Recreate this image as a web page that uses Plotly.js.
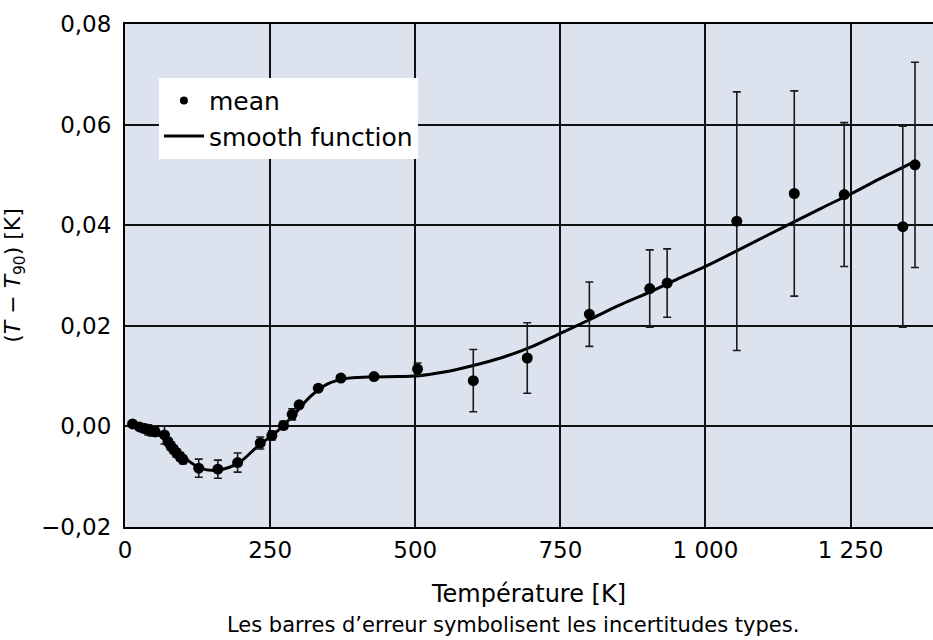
<!DOCTYPE html>
<html>
<head>
<meta charset="utf-8">
<script src="https://cdn.plot.ly/plotly-3.0.1.min.js"></script>
<style>html,body{margin:0;padding:0;background:#fff;}#chart{width:933px;height:640px;}</style>
</head>
<body>
<div id="chart"></div>
<script>
// Measured means (temperature in K, T - T90 in K, standard uncertainty in K)
const meanT = [13, 25, 33, 40, 46, 52, 68, 74, 79, 84, 89, 95, 100, 127, 160, 194, 233, 253, 273, 288, 300, 333, 372, 429, 504, 600, 693, 800, 904, 934, 1054, 1153, 1239, 1340, 1361];
const meanDiff = [0.0005, -0.0001, -0.0004, -0.0007, -0.0009, -0.0011, -0.0017, -0.0030, -0.0039, -0.0046, -0.0053, -0.0060, -0.0066, -0.0083, -0.0085, -0.0072, -0.0033, -0.0018, 0.0002, 0.0024, 0.0043, 0.0076, 0.0096, 0.0099, 0.0114, 0.0091, 0.0136, 0.0223, 0.0274, 0.0285, 0.0408, 0.0463, 0.0461, 0.0397, 0.0520];
const meanUnc = [0.0003, 0.0005, 0.0008, 0.0010, 0.0010, 0.0008, 0.0018, 0.0006, 0.0008, 0.0008, 0.0008, 0.0008, 0.0008, 0.0018, 0.0018, 0.0019, 0.0012, 0.0009, 0.0008, 0.0011, 0.0006, 0.0005, 0.0004, 0.0004, 0.0012, 0.0062, 0.0070, 0.0064, 0.0077, 0.0068, 0.0257, 0.0204, 0.0143, 0.0200, 0.0204];

// Smooth function
const smoothT = [13, 40, 70, 100, 130, 160, 195, 230, 260, 290, 320, 350, 380, 420, 470, 500, 550, 600, 650, 700, 750, 800, 850, 900, 950, 1000, 1100, 1200, 1250, 1300, 1361];
const smoothDiff = [0.0004, -0.0008, -0.0025, -0.0060, -0.0083, -0.0087, -0.0073, -0.0038, -0.0012, 0.0022, 0.0060, 0.0085, 0.0095, 0.0098, 0.0099, 0.0100, 0.0108, 0.0121, 0.0137, 0.0158, 0.0185, 0.0212, 0.0240, 0.0265, 0.0292, 0.0318, 0.0376, 0.0434, 0.0462, 0.0492, 0.0527];

const xTicks = [0, 250, 500, 750, 1000, 1250];
const yTicks = [-0.02, 0, 0.02, 0.04, 0.06, 0.08];

const FONT = 'DejaVu Sans, Liberation Sans, Arial, sans-serif';

const traces = [
  {
    x: smoothT, y: smoothDiff, type: 'scatter', mode: 'lines',
    name: 'smooth function', legendrank: 2, legendgroup: 'b',
    line: {color: '#000', width: 3, shape: 'spline', smoothing: 1}
  },
  {
    x: meanT, y: meanDiff, type: 'scatter', mode: 'markers',
    name: 'mean', showlegend: false, legendgroup: 'a',
    marker: {color: '#000', size: 11},
    error_y: {type: 'data', array: meanUnc, visible: true, color: '#1a1a1a', thickness: 1.6, width: 4}
  },
  {
    // legend entry only (smaller dot, as in the reference legend)
    x: [null], y: [null], type: 'scatter', mode: 'markers',
    name: 'mean', legendrank: 1, legendgroup: 'a',
    marker: {color: '#000', size: 8}, hoverinfo: 'skip'
  }
];

const layout = {
  width: 933, height: 640,
  margin: {l: 125, r: 0, t: 24, b: 113},
  paper_bgcolor: '#ffffff',
  plot_bgcolor: '#dce3ef',
  separators: ', ',
  font: {family: FONT, size: 23, color: '#000'},
  showlegend: true,
  legend: {
    x: 0.042, y: 0.893, xanchor: 'left', yanchor: 'top',
    bgcolor: '#ffffff', borderwidth: 0,
    font: {family: FONT, size: 25, color: '#000'},
    traceorder: 'grouped', tracegroupgap: 0,
    itemwidth: 40
  },
  xaxis: {
    range: [0, 1392],
    tickvals: xTicks,
    tickformat: ',d', separatethousands: true,
    showgrid: true, gridcolor: '#111', gridwidth: 2,
    zeroline: false,
    showline: true, linecolor: '#000', linewidth: 2, mirror: true,
    ticks: 'outside', ticklen: 1, tickcolor: 'rgba(0,0,0,0)',
    tickfont: {family: FONT, size: 23},
    title: {text: 'Température [K]', font: {family: FONT, size: 24}, standoff: 24}
  },
  yaxis: {
    range: [-0.02, 0.08],
    tickvals: yTicks,
    tickformat: '.2f',
    showgrid: true, gridcolor: '#111', gridwidth: 2,
    zeroline: false,
    showline: true, linecolor: '#000', linewidth: 2, mirror: true,
    ticks: 'outside', ticklen: 7, tickcolor: 'rgba(0,0,0,0)',
    tickfont: {family: FONT, size: 23},
    title: {text: '(<i>T</i> − <i>T</i><sub>90</sub>) [K]', font: {family: FONT, size: 22}, standoff: 27}
  },
  annotations: [
    {
      text: 'Les barres d’erreur symbolisent les incertitudes types.',
      xref: 'paper', yref: 'paper', x: 0.48, y: -0.195,
      xanchor: 'center', yanchor: 'middle', showarrow: false,
      font: {family: FONT, size: 21, color: '#000'}
    }
  ]
};

Plotly.newPlot('chart', traces, layout, {displayModeBar: false, staticPlot: true});
</script>
</body>
</html>
